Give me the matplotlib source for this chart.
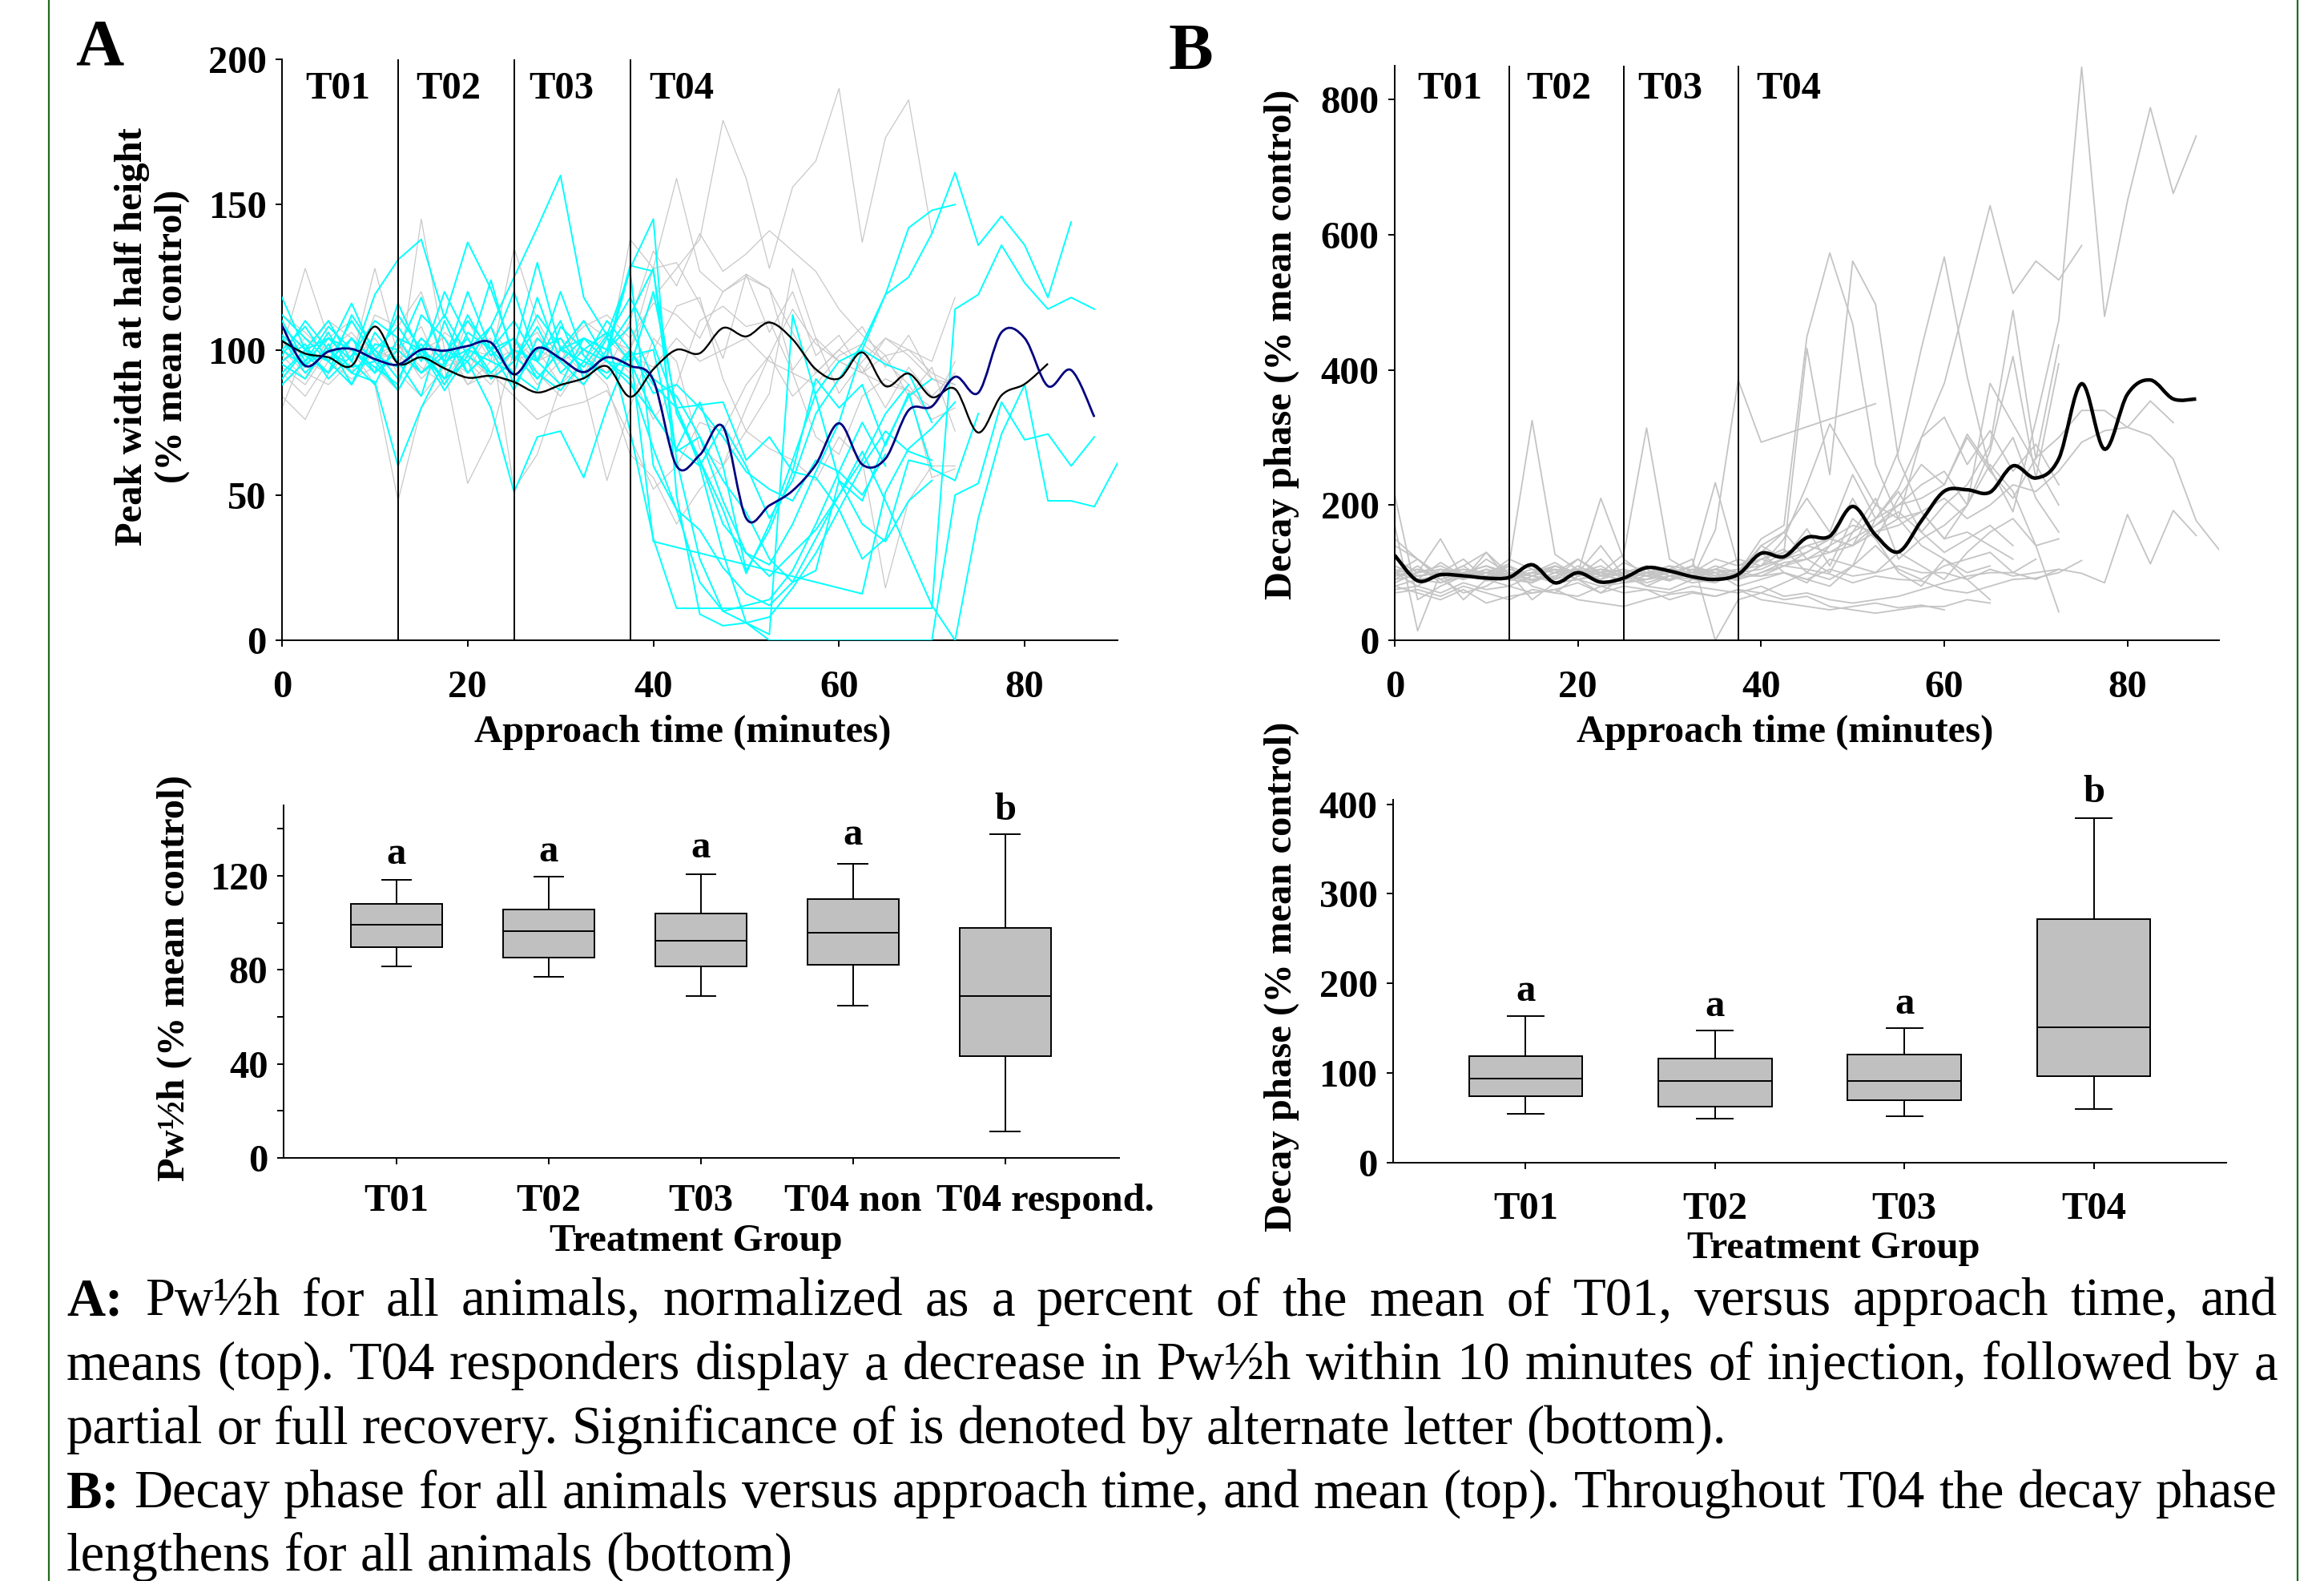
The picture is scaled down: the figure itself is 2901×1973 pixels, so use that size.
import numpy as np
import matplotlib
matplotlib.use('Agg')
import matplotlib.pyplot as plt
from matplotlib.path import Path
from matplotlib.patches import PathPatch
from matplotlib.transforms import blended_transform_factory, ScaledTranslation

nan = np.nan
STEP = 2.5  # minutes between samples

# ---------------- Panel A (Pw1/2h) individual animals ----------------
# responders (cyan)
pw_r1 = [100,108,96,104,92,100,118,95,104,90,96,112,101,94,105,72,35,11] + [nan]*10 + [11,114,119,136,123,114,118,114]
pw_r2 = [95,90,102,88,106,96,84,110,92,100,86,104,96,88,100,112,128,62,28,10,6,0] + [nan]*6 + [0,50,54,82,69,71,60,70]
pw_r3 = [105,98,92,112,100,90,104,96,120,100,92,86,108,100,96,90,66,45,38,25,16,12,20,35,50,65,48,30,12,0,42,71,88,48,48,46,61]
pw_r4 = [92,100,110,96,88,104,100,94,112,98,104,90,100,110,96,88,78,66,60,74,60,42,55,78,90,102,119,125,140,161,136,146,136,118,144]
pw_r5 = [110,96,104,100,92,116,98,90,106,100,120,96,88,104,100,108,90,84,70,48,30,26,40,58,75,100,119,142,148,150]
pw_r6 = [96,102,90,98,110,104,92,100,96,108,88,100,104,92,98,128,145,50,9,5,6,8,18,30,45,28,35,62,60]
pw_r7 = [118,100,92,104,96,112,100,86,98,124,96,108,92,100,106,96,78,66,82,60,24,38,58,90,80,88,67,85,59,55,78]
pw_r8 = [88,96,108,100,94,88,112,104,92,100,110,96,120,98,90,100,34] + [nan]*8 + [16,51,66,73,82]
pw_r9 = [104,92,100,116,98,94,102,88,100,96,92,118,96,104,100,129,127,78,62,45,23,40,62,85,96,100,95,92,75]
pw_r10 = [100,94,106,92,100,108,96,120,104,92,100,96,110,90,104,118,102,80,60,30,6,2,112,84,55,48,68,84,90]
pw_r11 = [112,104,96,88,102,100,92,98,110,100,104,92,86,96,110,100,88,80,81,82,62,70,58,56,45,60,72,65,62]
pw_r12 = [98,110,100,94,96,86,100,112,98,92,100,130,100,96,92,98,100,65,70,55,44,28,20,24,55,40,34,48,55]
pw_r13 = [104,95,100,92,89,60,80,96,100,108,125,142,160,118,105,127,60,45,20,10,12,14,24,40,58,75,60]
pw_r14 = [108,100,104,96,119,131,138,111,137,121,98,90,100,104,96,94,120,80,62,40,30,22,30,38,50,62,78,88]
pw_r15 = [90,100,96,110,98,86,100,90,96,80,51,70,72,56,80,100,85,88,80,70,58,52,48,62,58,50,64]
# non-responders (grey)
pw_n1 = [94,88,100,106,96,102,90,98,104,92,88,100,96,110,104,100,118,128,138,179,159,128,156,165,190,137,173,186,140]
pw_n2 = [100,128,104,96,128,98,92,106,100,90,96,104,100,92,96,138,128,159,127,120,125,121,93,104,96,92,104,98,90,88]
pw_n3 = [92,84,96,88,100,90,145,100,88,96,135,110,96,100,92,110,134,122,140,127,133,141,134,127,114,105,98,100,96,118]
pw_n4 = [84,76,92,100,88,48,80,90,96,88,100,92,84,96,88,64,56,40,52,60,72,66,62,55,70,62,18,48,60,60]
pw_n5 = [100,92,88,96,104,92,84,94,54,70,100,88,96,92,104,96,100,115,118,90,72,85,128,104,85,96,104,100,92,88]
pw_n6 = [96,104,100,92,112,108,120,96,100,104,52,64,88,90,100,92,76,88,110,115,108,110,92,70,64,84,90,86,56,59]
pw_n7 = [88,96,92,100,98,102,94,88,110,96,100,106,92,88,55,80,104,96,66,60,80,98,114,102,96,92,88,86,80,96]
pw_n8 = [102,98,110,104,96,100,108,90,100,98,104,96,100,108,112,104,116,112,104,120,126,121,106,92,100,108,94,105,90,86]
pw_n9 = [80,100,96,90,94,86,100,104,88,92,84,76,80,82,86,70,52,60,75,72,88,98,84,92,100,94,80,94,84,92]
pw_n10 = [112,106,98,92,100,96,104,98,92,108,96,100,88,96,106,98,94,104,96,100,104,96,92,88,98,102,96,88,76,80]
pw_n11 = [98,90,104,110,96,112,100,94,98,90,100,96,104,98,92,100,128,130,116,97,126,106,120,98,105,92,98,84,94,72]
# means
pw_mean_resp = [108.3,94.5,99.4,100.3,96.8,94.9,100,99.7,101.3,102.5,91.5,100.6,97,92.3,97.4,94.5,
                89.5,60,63.8,73.5,42,46.4,51.5,60.5,74.7,60.5,62.5,79.2,80.5,90.7,85.2,106,104,87.5,93,76.9]
pw_mean_non = [103,98.7,97.4,94.5,108,95.3,97.4,93.6,90.4,91,88.9,85.3,87.9,90.2,94.3,83.8,
               93.3,100,98.8,107.5,104.6,109.4,103.6,93.3,90.1,99.1,87.5,91.8,83.7,86.5,71.5,84.3,88.2,95.2]

# ---------------- Panel B (decay phase) individual animals ----------------
dp_1 = [150,120,95,110,130,88,100,92,120,100,85,96,110,104,92,100,140,120,165,110,180,150,210,260,230,305,255,190,325,473,848,479,650,788,661,746]
dp_2 = [100,80,105,92,120,98,110,85,100,140,95,105,88,100,120,110,130,160,210,160,245,180,225,300,380,510,643,513,561,533,584]
dp_3 = [90,110,85,100,95,120,105,90,110,95,100,85,95,110,100,90,100,115,120,130,140,200,280,432,567,390,250,300,210,160]
dp_4 = [110,95,100,120,90,105,95,110,100,90,115,100,105,95,110,100,150,170,449,573,468,260,180,140,120,100,110]
dp_5 = [85,100,110,95,105,90,100,115,95,105,100,110,95,90,105,120,110,130,432,245,561,497,268,190,150,160,140,120]
dp_6 = [95,105,90,100,110,95,85,100,105,90,100,95,105,100,90,95,120,110,130,150,140,170,190,160,200,230,288,488,268,437]
dp_7 = [100,90,95,105,100,110,95,90,100,105,95,100,90,105,95,100,105,120,140,130,150,170,200,230,250,200,280,420,240,409]
dp_8 = [105,95,100,90,100,95,105,100,90,95,100,110,95,100,105,90,100,110,120,140,160,180,200,210,230,300,250,210,270,300,340,340,315,354,322]
dp_9 = [95,100,105,100,90,100,95,105,100,110,90,100,105,95,100,105,110,120,130,150,140,160,170,190,210,180,200,230,220,250,293,310,315,303,268,177,134]
dp_10 = [90,95,100,105,95,100,90,95,105,100,95,90,100,95,105,100,95,100,90,105,95,100,110,100,100,90,105,95,100,105,99,85,186,113,192,155]
dp_11 = [100,105,95,100,110,100,95,105,90,100,105,95,100,110,95,105,120,130,140,150,170,160,180,190,150,200,260,220,140,42]
dp_12 = [80,90,85,95,90,80,95,85,90,80,85,90,95,85,90,95,95,110,105,98,85,95,90,88,75,70,80,90,92,100,118]
dp_13 = [70,75,65,80,70,60,75,70,65,80,70,75,60,70,65,75,70,60,65,50,45,40,45,50,50,60,55]
dp_14 = [75,80,70,85,75,80,70,75,85,70,80,75,70,80,75,70,80,65,70,60,55,60,65,75,85,95,100,100,90,105]
dp_15 = [140,120,96,110,88,92,100,104,96,120,88,100,110,92,163,385,293,nan,nan,nan,nan,350]
dp_16 = [100,90,115,95,100,113,325,127,104,96,90,110,100,95,105,92,110,150,230,320,260,200,180,300,330,260,310,250,290,230]
dp_17 = [110,95,100,90,105,96,100,110,95,100,127,314,120,100,96,88,140,160,120,100,160,210,120,150,170,200,380,320,260,200]
dp_18 = [215,60,80,95,100,90,85,110,100,210,120,95,88,105,100,80,90,100,85,120,110,140,105,90,110,120,130,100,120]
dp_19 = [170,14,100,60,90,110,80,70,95,100,85,90,105,120,0,60,70,85,100,140,210,150,100,80,120,90,60]
dp_20 = [120,100,150,90,130,98,88,100,120,96,105,80,95,110,233,110,120,135,100,90,110,180,220,160,130,150,170,140]
dp_21 = [80,70,60,75,55,65,70,75,60,55,50,60,68,72,65,75,60,55,50,45,50,55,48,52,45]
dp_22 = [100,120,90,70,80,100,60,85,90,70,95,80,75,90,85,100,130,100,90,80,110,100,130,110,90,130,160,180,140,150]
dp_mean = [125.8,88,97,95.4,92,93,111.7,85,100,86,92,107.4,102.5,94,90,97.5,128.6,123.7,152,154,198,155.5,
           130.7,176.7,220.5,222.6,219,258,240,268.6,379.5,282.7,364,385,357,357]

# ---------------- Box plot summaries ----------------
pw_groups = ['T01', 'T02', 'T03', 'T04 non', 'T04 respond.']
pw_wlo = [81.6, 77.1, 68.9, 64.8, 11.2]
pw_q1 = [89.6, 85.2, 81.6, 82.1, 43.2]
pw_med = [99.2, 96.6, 92.3, 95.8, 68.9]
pw_q3 = [108.2, 105.6, 103.9, 110.2, 97.9]
pw_whi = [118.4, 119.7, 120.7, 125.0, 137.8]
pw_letters = ['a', 'a', 'a', 'a', 'b']
pw_letter_y = [125.2, 126.2, 127.8, 133.4, 144.0]

dp_groups = ['T01', 'T02', 'T03', 'T04']
dp_wlo = [54.5, 49, 52, 59.7]
dp_q1 = [74, 63, 69.8, 96.5]
dp_med = [93.5, 91.6, 91.3, 151.4]
dp_q3 = [118.7, 116, 120.6, 271.6]
dp_whi = [163.6, 147.7, 150, 384]
dp_letters = ['a', 'a', 'a', 'b']
dp_letter_y = [181, 164, 166, 402]

period_bounds = [12.5, 25, 37.5]
period_names = ['T01', 'T02', 'T03', 'T04']
period_label_x = [6.0, 17.9, 30.1, 43.0]

# ---------------- figure ----------------
W, H = 2901, 1973
plt.rcParams['font.family'] = ['Liberation Serif', 'DejaVu Serif']
plt.rcParams['font.weight'] = 'bold'
plt.rcParams['axes.labelweight'] = 'bold'
FS = 35

fig = plt.figure(figsize=(W / 100, H / 100), dpi=100)

def make_ax(L, R, T, B):
    ax = fig.add_axes([L / W, 1 - B / H, (R - L) / W, (B - T) / H])
    ax.spines['top'].set_visible(False)
    ax.spines['right'].set_visible(False)
    for s in ('left', 'bottom'):
        ax.spines[s].set_linewidth(1.4)
    ax.tick_params(direction='out', length=6, width=1.4, labelsize=FS)
    return ax

def place_label(ax, box, lab, px, py):
    L, R, T, B = box
    lab.set_verticalalignment('center')
    lab.set_horizontalalignment('center')
    return ((px - L) / (R - L), (B - py) / (B - T))

def smooth_path(x, y):
    pts = np.column_stack([x, y])
    n = len(pts)
    verts = [pts[0]]
    codes = [Path.MOVETO]
    for i in range(n - 1):
        p0 = pts[i - 1] if i > 0 else pts[i]
        p1 = pts[i]
        p2 = pts[i + 1]
        p3 = pts[i + 2] if i + 2 < n else pts[i + 1]
        verts += [p1 + (p2 - p0) / 6.0, p2 - (p3 - p1) / 6.0, p2]
        codes += [Path.CURVE4] * 3
    return Path(verts, codes)

def draw_series(ax, vals, **kw):
    v = np.asarray(vals, dtype=float)
    t = np.arange(len(v)) * STEP
    m = np.isfinite(v)
    ax.plot(t[m], v[m], **kw)

# ---- Panel A top ----
boxA = (352, 1395, 74, 799)
axA = make_ax(*boxA)
for s in [pw_n1, pw_n2, pw_n3, pw_n4, pw_n5, pw_n6, pw_n7, pw_n8, pw_n9, pw_n10, pw_n11]:
    draw_series(axA, s, color='#C8C8C8', lw=0.9, zorder=2)
for s in [pw_r1, pw_r2, pw_r3, pw_r4, pw_r5, pw_r6, pw_r7, pw_r8, pw_r9, pw_r10, pw_r11, pw_r12, pw_r13, pw_r14, pw_r15]:
    draw_series(axA, s, color='#00FFFF', lw=1.4, zorder=3)
tm = np.arange(len(pw_mean_non)) * STEP
axA.add_patch(PathPatch(smooth_path(tm, np.array(pw_mean_non)), fill=False, edgecolor='black', lw=1.7, zorder=5))
tm = np.arange(len(pw_mean_resp)) * STEP
axA.add_patch(PathPatch(smooth_path(tm, np.array(pw_mean_resp)), fill=False, edgecolor='#000080', lw=2.0, zorder=6))
axA.set_xlim(0, 90)
axA.set_ylim(0, 200)
axA.set_xticks([0, 20, 40, 60, 80])
axA.set_yticks([0, 50, 100, 150, 200])
axA.tick_params(axis='x', pad=21)
axA.tick_params(axis='y', pad=8)
for b in period_bounds:
    axA.plot([b, b], [0, 200], color='black', lw=1.4, zorder=7)
trA = blended_transform_factory(axA.transData, axA.transAxes)
for xlab, name in zip(period_label_x, period_names):
    axA.text(xlab, (799 - 111) / (799 - 74), name, transform=trA, ha='center', va='center',
             fontsize=FS, fontweight='bold', zorder=8)
axA.set_xlabel('Approach time (minutes)', fontsize=FS, fontweight='bold')
axA.xaxis.set_label_coords(*place_label(axA, boxA, axA.xaxis.label, 852, 914))
axA.set_ylabel('Peak width at half height\n(% mean control)', fontsize=FS, fontweight='bold', linespacing=1.15)
axA.yaxis.set_label_coords(*place_label(axA, boxA, axA.yaxis.label, 190, 420))

# ---- Panel B top ----
boxB = (1741, 2770, 82, 799)
axB = make_ax(*boxB)
for s in [dp_1, dp_2, dp_3, dp_4, dp_5, dp_6, dp_7, dp_8, dp_9, dp_10, dp_11,
          dp_12, dp_13, dp_14, dp_15, dp_16, dp_17, dp_18, dp_19, dp_20, dp_21, dp_22]:
    draw_series(axB, s, color='#C4C4C4', lw=1.3, zorder=2)
tm = np.arange(len(dp_mean)) * STEP
axB.add_patch(PathPatch(smooth_path(tm, np.array(dp_mean)), fill=False, edgecolor='black', lw=3.2, zorder=5))
axB.set_xlim(0, 90)
axB.set_ylim(0, 850)
axB.set_xticks([0, 20, 40, 60, 80])
axB.set_yticks([0, 200, 400, 600, 800])
axB.tick_params(axis='x', pad=21)
axB.tick_params(axis='y', pad=8)
for b in period_bounds:
    axB.plot([b, b], [0, 850], color='black', lw=1.4, zorder=7)
trB = blended_transform_factory(axB.transData, axB.transAxes)
for xlab, name in zip(period_label_x, period_names):
    axB.text(xlab, (799 - 111) / (799 - 82), name, transform=trB, ha='center', va='center',
             fontsize=FS, fontweight='bold', zorder=8)
axB.set_xlabel('Approach time (minutes)', fontsize=FS, fontweight='bold')
axB.xaxis.set_label_coords(*place_label(axB, boxB, axB.xaxis.label, 2228, 914))
axB.set_ylabel('Decay phase (% mean control)', fontsize=FS, fontweight='bold')
axB.yaxis.set_label_coords(*place_label(axB, boxB, axB.yaxis.label, 1600, 430))

# ---- box plots ----
def draw_boxes(ax, groups, wlo, q1, med, q3, whi):
    stats = [dict(whislo=a, q1=b, med=c, q3=d, whishi=e, label=g)
             for g, a, b, c, d, e in zip(groups, wlo, q1, med, q3, whi)]
    pos = np.arange(1, len(groups) + 1)
    ax.bxp(stats, positions=pos, widths=0.6, patch_artist=True, showfliers=False,
           boxprops=dict(facecolor='#C0C0C0', edgecolor='black', linewidth=1.4),
           medianprops=dict(color='black', linewidth=1.4),
           whiskerprops=dict(color='black', linewidth=1.4),
           capprops=dict(color='black', linewidth=1.4), capwidths=0.19)
    ax.set_xticks(pos)
    ax.set_xticklabels(groups, fontsize=FS, fontweight='bold')
    return pos

boxC = (354, 1397, 1005, 1445)
axC = make_ax(*boxC)
posC = draw_boxes(axC, pw_groups, pw_wlo, pw_q1, pw_med, pw_q3, pw_whi)
axC.set_xlim(0.26, 5.75)
axC.set_ylim(0, 150)
axC.set_yticks(np.arange(0, 150, 20))
axC.set_yticklabels(['0', '', '40', '', '80', '', '120', ''])
axC.tick_params(axis='x', pad=17)
axC.tick_params(axis='y', pad=8)
for p, l, y in zip(posC, pw_letters, pw_letter_y):
    axC.text(p, y, l, ha='center', va='baseline', fontsize=FS, fontweight='bold', clip_on=False)
axC.set_xlabel('Treatment Group', fontsize=FS, fontweight='bold')
axC.xaxis.set_label_coords(*place_label(axC, boxC, axC.xaxis.label, 869, 1549))
axC.set_ylabel('Pw½h (% mean control)', fontsize=FS, fontweight='bold')
axC.yaxis.set_label_coords(*place_label(axC, boxC, axC.yaxis.label, 218, 1221))

boxD = (1739, 2779, 998, 1451)
axD = make_ax(*boxD)
posD = draw_boxes(axD, dp_groups, dp_wlo, dp_q1, dp_med, dp_q3, dp_whi)
axD.set_xlim(0.30, 4.70)
axD.set_ylim(0, 405)
axD.set_yticks([0, 100, 200, 300, 400])
axD.tick_params(axis='x', pad=20)
axD.tick_params(axis='y', pad=8)
for p, l, y in zip(posD, dp_letters, dp_letter_y):
    axD.text(p, y, l, ha='center', va='baseline', fontsize=FS, fontweight='bold', clip_on=False)
axD.set_xlabel('Treatment Group', fontsize=FS, fontweight='bold')
axD.xaxis.set_label_coords(*place_label(axD, boxD, axD.xaxis.label, 2289, 1558))
axD.set_ylabel('Decay phase (% mean control)', fontsize=FS, fontweight='bold')
axD.yaxis.set_label_coords(*place_label(axD, boxD, axD.yaxis.label, 1600, 1219))

for ax in (axA, axB, axC, axD):
    for lab in ax.get_xticklabels() + ax.get_yticklabels():
        lab.set_fontweight('bold')
        lab.set_fontsize(FS)

# the long last category label sits a little right of its tick in the reference
last = axC.get_xticklabels()[-1]
last.set_transform(last.get_transform() + ScaledTranslation(0.50, 0, fig.dpi_scale_trans))

# panel letters
fig.text(124 / W, 1 - 61 / H, 'A', fontsize=60, fontweight='bold', ha='center', va='center')
fig.text(1486 / W, 1 - 66 / H, 'B', fontsize=60, fontweight='bold', ha='center', va='center')

# border lines
fig.add_artist(plt.Line2D([61 / W, 61 / W], [0, 1], color='#1E6B1E', lw=1.6, transform=fig.transFigure))
fig.add_artist(plt.Line2D([2868 / W, 2868 / W], [0, 1], color='#1E6B1E', lw=1.6, transform=fig.transFigure))

# ---------------- caption ----------------
CAP_FS = 48
cap_lines = [
    ([('A:', True)] + [(w, False) for w in 'Pw½h for all animals, normalized as a percent of the mean of T01, versus approach time, and'.split()], True),
    ([(w, False) for w in 'means (top). T04 responders display a decrease in Pw½h within 10 minutes of injection, followed by a'.split()], True),
    ([(w, False) for w in 'partial or full recovery. Significance of is denoted by alternate letter (bottom).'.split()], False),
    ([('B:', True)] + [(w, False) for w in 'Decay phase for all animals versus approach time, and mean (top). Throughout T04 the decay phase'.split()], True),
    ([(w, False) for w in 'lengthens for all animals (bottom)'.split()], False),
]
cap_baselines = [1641, 1721, 1801, 1881, 1960]
cap_left, cap_right = 83, 2843

fig.canvas.draw()
rend = fig.canvas.get_renderer()

def text_w(s, bold=False):
    t = fig.text(0, 0, s, fontsize=CAP_FS, fontweight='bold' if bold else 'normal')
    w = t.get_window_extent(rend).width
    t.remove()
    return w

space_w = text_w('n n') - text_w('nn')
for (words, justify), yb in zip(cap_lines, cap_baselines):
    widths = [text_w(w, b) for w, b in words]
    if justify and len(words) > 1:
        gap = (cap_right - cap_left - sum(widths)) / (len(words) - 1)
    else:
        gap = space_w
    x = cap_left
    for (w, b), wd in zip(words, widths):
        fig.text(x / W, 1 - yb / H, w, fontsize=CAP_FS, fontweight='bold' if b else 'normal',
                 ha='left', va='baseline')
        x += wd + gap

fig.savefig('out.png', dpi=100)
